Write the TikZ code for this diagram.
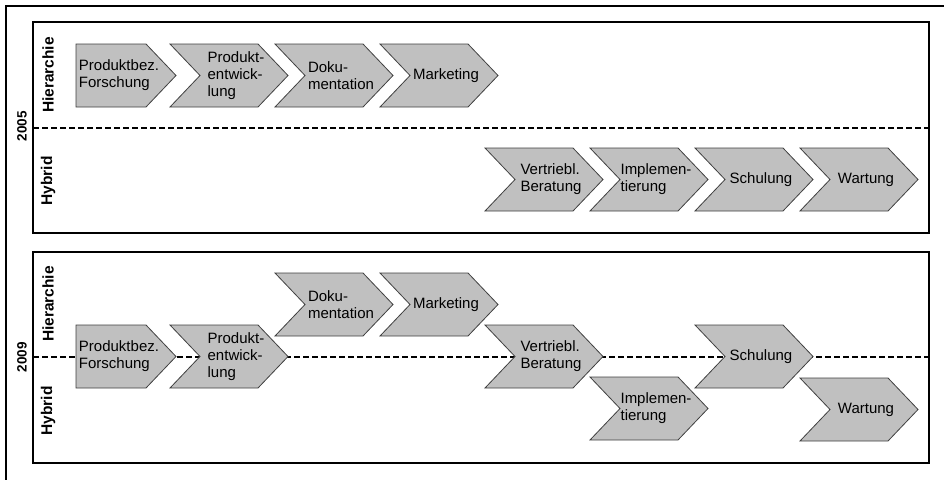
\documentclass[tikz,border=0pt]{standalone}
\usepackage{fontspec}
\setmainfont{Liberation Sans}
\definecolor{chevgray}{HTML}{C0C0C0}
\definecolor{chevline}{HTML}{404040}
\begin{document}
\begin{tikzpicture}[x=1pt,y=-1pt]
\tikzset{
 chev/.style={fill=chevgray, draw=chevline, line width=0.8pt, line join=miter},
 lbl/.style={font=\fontsize{15}{16.8}\selectfont, align=left, inner sep=0pt, text=black},
 lane/.style={font=\bfseries\fontsize{15.5}{17}\selectfont, rotate=90, inner sep=0pt},
 yearlbl/.style={font=\bfseries\fontsize{13.5}{15}\selectfont, rotate=90, inner sep=0pt},
 framebox/.style={draw=black, line width=1.5pt},
 sepline/.style={draw=black, line width=1.3pt, dash pattern=on 5.5pt off 3.5pt},
}
\newcommand\chevron[4]{%
  \path[chev] (#2,#3) -- ++(88,0) -- ++(30,31.5) -- ++(-30,31.5) -- ++(-88,0) -- ++(30,-31.5) -- cycle;
  \node[lbl] (#1) at (#2+66,#3+31.5) {#4};
}
\newcommand\startchev[4]{%
  \path[chev] (#2,#3) -- ++(70,0) -- ++(30,31.5) -- ++(-30,31.5) -- ++(-70,0) -- cycle;
  \node[lbl] (#1) at (#2+43,#3+31.5) {#4};
}
\useasboundingbox (0,0) rectangle (944,479);
% outer frame
\draw[framebox] (6,482) -- (6,6) -- (948,6);
% 2005 block
\draw[framebox] (33,22) rectangle (929,233);
\coordinate (sepAl) at (33,128);
\coordinate (sepAr) at (929,128);
\draw[sepline] (sepAl) -- (sepAr);
\node[yearlbl] (yA) at (22,126) {2005};
\node[lane] (hierA) at (48,75) {Hierarchie};
\node[lane] (hybA) at (48,181) {Hybrid};
\startchev{a1}{76}{44}{Produktbez.\\Forschung}
\chevron{a2}{170}{44}{Produkt-\\entwick-\\lung}
\chevron{a3}{275}{44}{Doku-\\mentation}
\chevron{a4}{380}{44}{Marketing}
\chevron{a5}{485}{148}{Vertriebl.\\Beratung}
\chevron{a6}{590}{148}{Implemen-\\tierung}
\chevron{a7}{695}{148}{Schulung}
\chevron{a8}{800}{148}{Wartung}
% 2009 block
\draw[framebox] (33,252) rectangle (929,463);
\coordinate (sepBl) at (33,357);
\coordinate (sepBr) at (929,357);
\draw[sepline] (sepBl) -- (sepBr);
\node[yearlbl] (yB) at (22,357) {2009};
\node[lane] (hierB) at (48,304) {Hierarchie};
\node[lane] (hybB) at (48,411) {Hybrid};
\startchev{b1}{76}{325}{Produktbez.\\Forschung}
\chevron{b2}{170}{325}{Produkt-\\entwick-\\lung}
\chevron{b3}{275}{273}{Doku-\\mentation}
\chevron{b4}{380}{273}{Marketing}
\chevron{b5}{485}{325}{Vertriebl.\\Beratung}
\chevron{b6}{590}{377}{Implemen-\\tierung}
\chevron{b7}{695}{325}{Schulung}
\chevron{b8}{800}{378}{Wartung}
\end{tikzpicture}
\end{document}
